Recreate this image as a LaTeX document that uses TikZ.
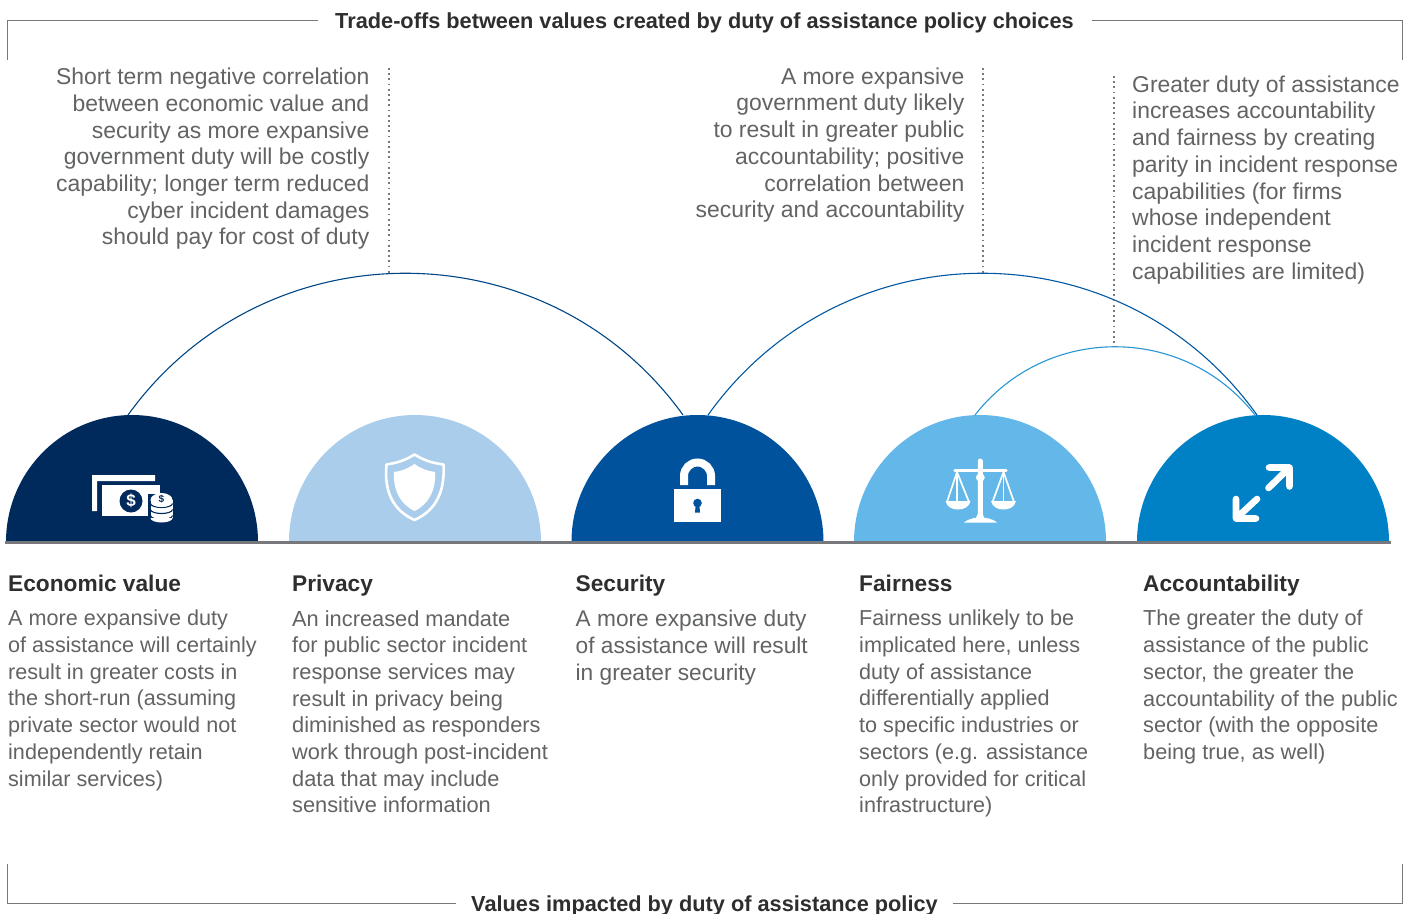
\documentclass[tikz,border=0pt]{standalone}
\usepackage{fontspec}
\setmainfont{Liberation Sans}
\definecolor{txt}{HTML}{626365}
\definecolor{head}{HTML}{2E2E30}
\definecolor{rule}{HTML}{77787B}
\definecolor{cNavy}{HTML}{002A5C}
\definecolor{cPale}{HTML}{ABCDEC}
\definecolor{cBlue}{HTML}{00529C}
\definecolor{cSky}{HTML}{63B8E9}
\definecolor{cMid}{HTML}{0080C5}
\tikzset{
 x=1pt,y=-1pt,
 bodyL/.style={anchor=north west,inner sep=0pt,align=left,text=txt,font=\fontsize{#1}{26.7}\selectfont},
 upperL/.style={anchor=north west,inner sep=0pt,align=left,text=txt,font=\fontsize{22.9}{26.7}\selectfont},
 upperR/.style={anchor=north east,inner sep=0pt,align=right,text=txt,font=\fontsize{22.9}{26.7}\selectfont},
 headL/.style={anchor=base west,inner sep=0pt,text=head,font=\fontsize{22.7}{26}\selectfont\bfseries},
 titleT/.style={anchor=base,inner sep=0pt,text=head,font=\fontsize{21.75}{26}\selectfont\bfseries},
 frameL/.style={draw=rule,line width=0.9pt},
 dots/.style={draw=rule,line width=1.7pt,dash pattern=on 1.7pt off 3.5pt},
 arcA/.style={line width=1.1pt},
}
\begin{document}
\begin{tikzpicture}
\useasboundingbox (0,0) rectangle (1415,913);
\fill[white] (0,0) rectangle (1415,913);
% frame
\coordinate (tl) at (318,20); \coordinate (tld) at (7,60);
\coordinate (tr) at (1092,20); \coordinate (trd) at (1402,60);
\coordinate (bl) at (456,903); \coordinate (blu) at (7,864);
\coordinate (br) at (953,903); \coordinate (bru) at (1402,864);
\draw[frameL] (tl) -| (tld);
\draw[frameL] (tr) -| (trd);
\draw[frameL] (bl) -| (blu);
\draw[frameL] (br) -| (bru);
\node[titleT] (t1) at (704.5,28.5) {Trade-offs between values created by duty of assistance policy choices};
\node[titleT] (t2) at (704.5,911) {Values impacted by duty of assistance policy};
% domes
\foreach \n/\cx/\col in {d1/132/cNavy,d2/415/cPale,d3/697.5/cBlue,d4/980/cSky,d5/1263/cMid}{
 \fill[\col] (\cx-126,542) arc[start angle=180,end angle=0,x radius=126pt,y radius=127pt] -- cycle;
}
\coordinate (base0) at (5,542.5); \coordinate (base1) at (1391,542.5);
\draw[draw=rule,line width=2.2pt] (base0) -- (base1);
% arcs
\coordinate (a1s) at (128,415); \coordinate (a1e) at (683,415);
\coordinate (a2s) at (708,415); \coordinate (a2e) at (1257,415);
\coordinate (a3s) at (975,415); \coordinate (a3e) at (1255,415);
\draw[arcA,draw=cBlue!85!black] (a1s) .. controls +(136,-189) and +(-136,-189) .. (a1e);
\draw[arcA,draw=cBlue!85!cMid] (a2s) .. controls +(135,-189) and +(-135,-189) .. (a2e);
\draw[arcA,draw=cMid!60!cSky] (a3s) .. controls +(71,-91) and +(-71,-91) .. (a3e);
% dotted leaders
\coordinate (l1a) at (389,68); \coordinate (l1b) at (389,273);
\coordinate (l2a) at (983,68); \coordinate (l2b) at (983,273);
\coordinate (l3a) at (1114,76); \coordinate (l3b) at (1114,347);
\draw[dots] (l1a) -- (l1b);
\draw[dots] (l2a) -- (l2b);
\draw[dots] (l3a) -- (l3b);
% upper texts
\node[upperR] (u1) at (369.5,68) {Short term negative correlation\\between economic value and\\security as more expansive\\government duty will be costly\\capability; longer term reduced\\cyber incident damages\\should pay for cost of duty};
\node[upperR] (u2) at (964.5,67.5) {A more expansive\\government duty likely\\to result in greater public\\accountability; positive\\correlation between\\security and accountability};
\node[upperL] (u3) at (1132,75.5) {Greater duty of assistance\\increases accountability\\and fairness by creating\\parity in incident response\\capabilities (for firms\\whose independent\\incident response\\capabilities are limited)};
% headings
\node[headL] (h1) at (8,591) {Economic value};
\node[headL] (h2) at (292,591) {Privacy};
\node[headL] (h3) at (575.5,591) {Security};
\node[headL] (h4) at (859,591) {Fairness};
\node[headL] (h5) at (1143,591) {Accountability};
% lower texts
\node[bodyL=21.6] (b1) at (8,610) {A more expansive duty\\of assistance will certainly\\result in greater costs in\\the short-run (assuming\\private sector would not\\independently retain\\similar services)};
\node[bodyL=21.8] (b2) at (292,610) {An increased mandate\\for public sector incident\\response services may\\result in privacy being\\diminished as responders\\work through post-incident\\data that may include\\sensitive information};
\node[bodyL=22.7] (b3) at (575.5,610) {A more expansive duty\\of assistance will result\\in greater security};
\node[bodyL=21.6] (b4) at (859,610) {Fairness unlikely to be\\implicated here, unless\\duty of assistance\\differentially applied\\to specific industries or\\sectors (e.g. assistance\\only provided for critical\\infrastructure)};
\node[bodyL=21.7] (b5) at (1143,610) {The greater the duty of\\assistance of the public\\sector, the greater the\\accountability of the public\\sector (with the opposite\\being true, as well)};
% icon: money
\fill[white] (92,475) -- (155,475) -- (155,481) -- (97,481) -- (97,511) -- (92,511) -- cycle;
\fill[white] (102,485) rectangle (160,516);
\fill[cNavy] (131,501) circle[radius=11.5];
\node[inner sep=0pt,text=white,font=\fontsize{17}{17}\selectfont\bfseries] (dol1) at (131,501) {\$};
\fill[cNavy] (148,494) rectangle (175,524);
\fill[white] (150.5,500) rectangle (172.5,518);
\foreach \yy in {503.5,509.5,515.5}{
 \draw[cNavy,line width=1.1pt] (150.5,\yy) arc[start angle=180,end angle=360,x radius=11pt,y radius=4pt];
}
\fill[white] (150.5,518) arc[start angle=180,end angle=360,x radius=11pt,y radius=4.5pt] -- cycle;
\fill[white] (161.5,500) ellipse[x radius=11,y radius=7];
\node[inner sep=0pt,text=cNavy,font=\fontsize{10}{10}\selectfont\bfseries] (dol2) at (161.5,499) {\$};
% icon: shield
\draw[white,line width=2.6pt,line join=round] (414.5,454.5) .. controls (404,461) and (396,463) .. (386.5,464.5) .. controls (384,490) and (392,510) .. (414.5,520) .. controls (437,510) and (445,490) .. (443.5,464.5) .. controls (433,463) and (425,461) .. (414.5,454.5) -- cycle;
\fill[white] (414.5,464) .. controls (409,468) and (402,471) .. (394,472) .. controls (393,490) and (400,504) .. (414.5,511) .. controls (429,504) and (436,490) .. (435,472) .. controls (427,471) and (420,468) .. (414.5,464) -- cycle;
% icon: lock
\draw[white,line width=8pt] (684,485) -- (684,476) arc[start angle=180,end angle=0,radius=13.5pt] -- (711,485);
\fill[white] (674,489) rectangle (720.5,522);
\fill[cBlue] (697.5,503) circle[radius=4.3];
\fill[cBlue] (695.7,504) -- (699.3,504) -- (700,512.5) -- (695,512.5) -- cycle;
% icon: scales
\fill[white] (977.8,461) arc[start angle=180,end angle=0,radius=2.5pt] -- (982.8,514) -- (984.5,519) -- (975.5,519) -- (977.8,514) -- cycle;
\draw[white,line width=3.4pt,line cap=round] (955,470.5) -- (1006,470.5);
\fill[white] (980.3,477.5) ellipse[x radius=4.5,y radius=4];
\fill[white] (964,522.5) .. controls (970,518) and (976,517.5) .. (980.3,517.5) .. controls (985,517.5) and (991,518) .. (997,522.5) -- cycle;
\draw[white,line width=1.7pt,line join=round] (957,472) -- (947,502) -- (969,502) -- cycle;
\draw[white,line width=1.7pt,line join=round] (1003.5,472) -- (992.5,502) -- (1014,502) -- cycle;
\draw[white,line width=1.2pt] (957,472) -- (957,502) (1003.5,472) -- (1003.5,502);
\fill[white] (945.5,501) .. controls (947,507) and (952,509.5) .. (958,509.5) .. controls (964,509.5) and (969,507) .. (970.5,501) -- cycle;
\fill[white] (991,501) .. controls (992.5,507) and (997.5,509.5) .. (1003.5,509.5) .. controls (1009.5,509.5) and (1014.5,507) .. (1016,501) -- cycle;
% icon: arrows
\draw[white,line width=6.6pt,line cap=round,line join=round] (1269,467.5) -- (1289.5,467.5) -- (1289.5,486.5) (1289.5,467.5) -- (1268.5,488);
\draw[white,line width=6.6pt,line cap=round,line join=round] (1236,499) -- (1236,518.5) -- (1256,518.5) (1236,518.5) -- (1257,499);
\end{tikzpicture}
\end{document}
